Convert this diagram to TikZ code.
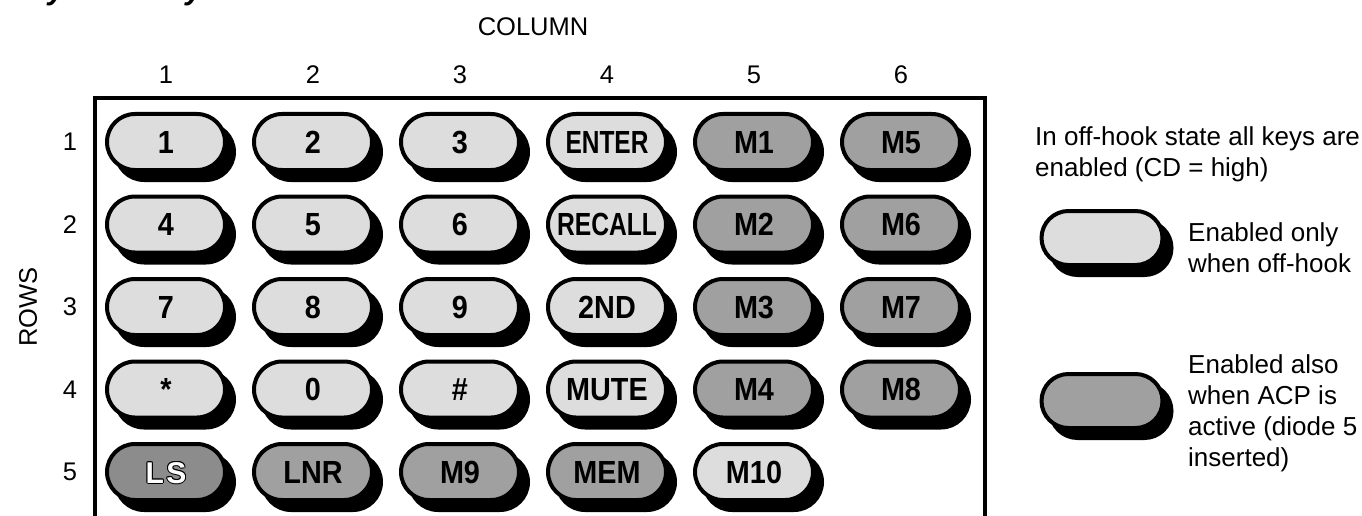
\documentclass[tikz,border=0pt]{standalone}
\usepackage{fontspec}
\setmainfont{Liberation Sans}
\usepackage{graphicx}
\usetikzlibrary{shapes.misc,shadows}
\definecolor{keylight}{HTML}{DDDDDD}
\definecolor{keydark}{HTML}{A0A0A0}
\definecolor{keyls}{HTML}{8C8C8C}
\tikzset{
  kbkey/.style={rounded rectangle, draw=black, line width=4pt,
    minimum width=118pt, minimum height=56pt, inner sep=0pt,
    text height=22.9pt, text depth=0pt,
    font=\fontsize{32}{36}\selectfont\bfseries,
    drop shadow={shadow xshift=9pt, shadow yshift=-10pt, fill=black,
      draw=black, line width=4pt, opacity=1}},
  lstext/.style={inner sep=0pt, text height=22pt, text depth=0pt,
    font=\fontsize{30}{36}\selectfont\bfseries},
  lbl/.style={inner sep=0pt, font=\fontsize{25.5}{30}\selectfont},
  legtext/.style={inner sep=0pt, align=left, anchor=west,
    font=\fontsize{26}{31}\selectfont},
  titletext/.style={inner sep=0pt, anchor=base west,
    font=\fontsize{31}{36}\selectfont\bfseries\itshape}
}
\begin{document}
\begin{tikzpicture}[x=1pt,y=-1pt]
\useasboundingbox (0,0) rectangle (1362,516);
% title (cut by the page edge)
\node[titletext] (title) at (8,0) {Keyboard layout};
% headings
\node[lbl] (colhead) at (533,27) {COLUMN};
\node[lbl, rotate=90] (rowhead) at (28,307) {ROWS};
\foreach \c [count=\i] in {166,313,460,607,754,901}
  \node[lbl] (col\i) at (\c,75) {\i};
\foreach \r [count=\i] in {142,224.5,307,389.5,472}
  \node[lbl] (row\i) at (70,\r) {\i};
% frame
\draw[line width=4pt] (95,530) -- (95,98) -- (985,98) -- (985,530);
% keys
\foreach \ci/\ri/\fc/\sx/\lab in {
  1/1/keylight/0.9/1, 2/1/keylight/0.9/2, 3/1/keylight/0.9/3, 4/1/keylight/0.765/ENTER, 5/1/keydark/0.9/M1, 6/1/keydark/0.9/M5,
  1/2/keylight/0.9/4, 2/2/keylight/0.9/5, 3/2/keylight/0.9/6, 4/2/keylight/0.77/RECALL, 5/2/keydark/0.9/M2, 6/2/keydark/0.9/M6,
  1/3/keylight/0.9/7, 2/3/keylight/0.9/8, 3/3/keylight/0.9/9, 4/3/keylight/0.9/2ND, 5/3/keydark/0.9/M3, 6/3/keydark/0.9/M7,
  1/4/keylight/0.9/*, 2/4/keylight/0.9/0, 3/4/keylight/0.9/\#, 4/4/keylight/0.9/MUTE, 5/4/keydark/0.9/M4, 6/4/keydark/0.9/M8,
  2/5/keydark/0.9/LNR, 3/5/keydark/0.9/M9, 4/5/keydark/0.9/MEM, 5/5/keylight/0.9/M10}
  \node[kbkey, fill=\fc] (k\ri\ci) at ({166+(\ci-1)*147},{142+(\ri-1)*82.5})
    {\makebox[0pt]{\scalebox{\sx}[1]{\lab}}};
% LS key: white letters with a thin black outline
\node[kbkey, fill=keyls] (k51) at (166,472) {\makebox[0pt]{}};
\foreach \dx/\dy [count=\j] in {1/0,-1/0,0/1,0/-1,0.7/0.7,-0.7/0.7,0.7/-0.7,-0.7/-0.7}
  \node[lstext, text=black] (lsline\j) at ([shift={(\dx,\dy)}]k51.center) {L\kern2.5pt S};
\node[lstext, text=white] (lsfill) at (k51.center) {L\kern2.5pt S};
% legend
\node[legtext] (legtop) at (1035,154.6) {In off-hook state all keys are\\enabled (CD = high)};
\node[kbkey, fill=keylight, minimum width=121pt, minimum height=54pt] (leg1) at (1102,238) {\makebox[0pt]{}};
\node[legtext] (leg1t) at (1188,247.4) {Enabled only\\when off-hook};
\node[kbkey, fill=keydark, minimum width=121pt, minimum height=54pt] (leg2) at (1102,401) {\makebox[0pt]{}};
\node[legtext] (leg2t) at (1188,413.5) {Enabled also\\when ACP is\\active (diode 5\\inserted)};
\end{tikzpicture}
\end{document}
